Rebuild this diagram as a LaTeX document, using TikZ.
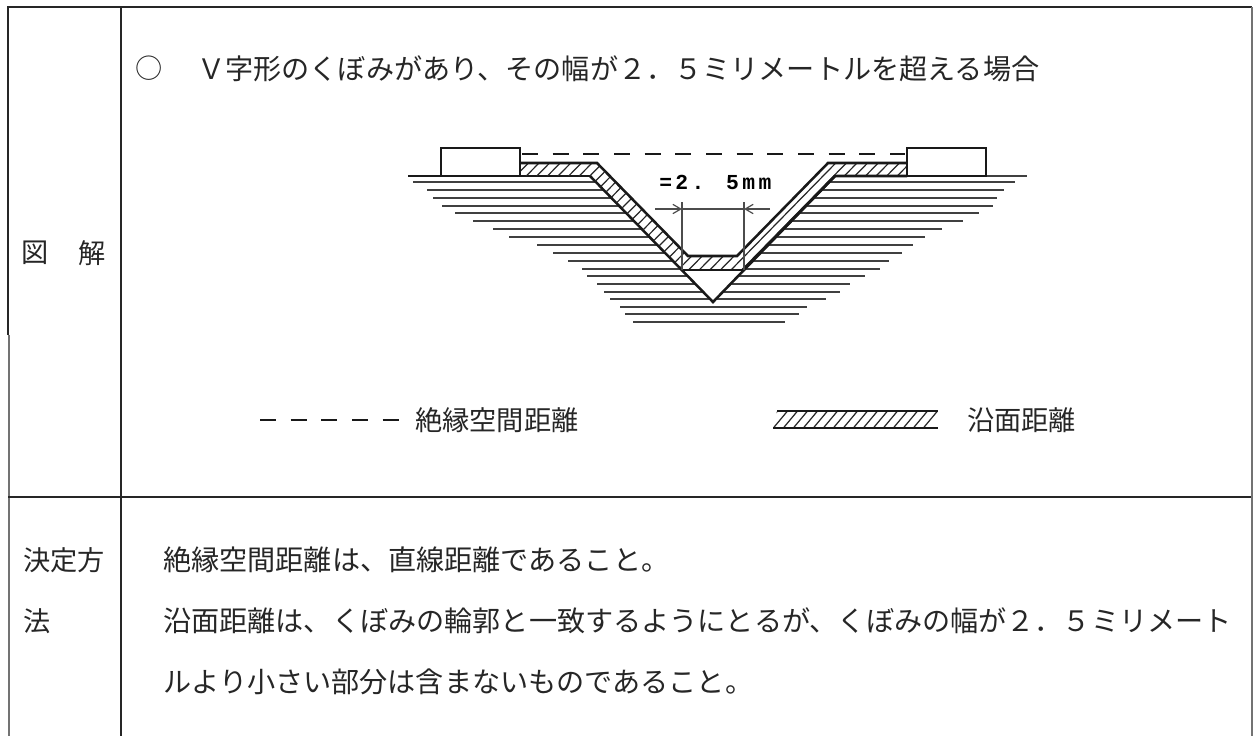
\documentclass[tikz,border=0pt]{standalone}
\usepackage{fontspec}
\setmainfont{Noto Sans CJK JP}
\newfontfamily\dimfont[LetterSpace=16]{Liberation Mono}
\usetikzlibrary{arrows.meta}
\tikzset{
  x=0.75pt,y=-0.75pt,
  frame/.style={line width=1.9pt,draw=black!85},
  thinframe/.style={line width=1pt,draw=black!55},
  body/.style={inner sep=0pt,anchor=west,font=\fontsize{20.4pt}{24pt}\selectfont,text=black!85},
  bodywide/.style={body,font=\fontsize{21.1pt}{24pt}\selectfont},
  partline/.style={line width=1.9pt,draw=black!90},
  ground/.style={line width=1.05pt,draw=black!75},
  hatchline/.style={line width=0.9pt,draw=black!85},
  dimline/.style={line width=0.9pt,draw=black!70},
  dimarrow/.style={dimline,-{Straight Barb[length=6pt,width=7pt]}},
  gapline/.style={line width=2.1pt,draw=black!90,dash pattern=on 12pt off 11pt},
}
\begin{document}
\begin{tikzpicture}
\useasboundingbox (0,0) rectangle (1256,736);
% frame
\draw[frame] (7,7) -- (1252,7);
\draw[frame] (8,7) -- (8,335);
\draw[thinframe] (9,335) -- (9,736);
\draw[frame] (121,7) -- (121,736);
\draw[frame] (8,497) -- (1252,497);
\draw[thinframe] (1252,7) -- (1252,736);
% labels
\node[body] (zu) at (21,253) {図};
\node[body] (kai) at (78,253) {解};
\node[body] (kettei) at (23,560) {決定方};
\node[body] (hou) at (23,621) {法};
\node[body] (circ) at (135,68) {○};
\node[bodywide] (head) at (197,69) {Ｖ字形のくぼみがあり、その幅が２．５ミリメートルを超える場合};
\node[bodywide] (l1) at (163,560) {絶縁空間距離は、直線距離であること。};
\node[bodywide] (l2) at (163,621) {沿面距離は、くぼみの輪郭と一致するようにとるが、くぼみの幅が２．５ミリメート};
\node[bodywide] (l3) at (163,682) {ルより小さい部分は含まないものであること。};
% ground lines
\foreach \y/\l/\r in {182/413/1015,190/427/1004,198/433/997,206/442/993,213/455/979,221/473/963,229/493/942,237/509/925,245/537/913,253/553/902,261/568/889,269/582/880,276/587/865,284/597/850,292/604/840,299/610/826}{
  \pgfmathsetmacro{\ia}{590+(\y-176)*0.976}
  \pgfmathsetmacro{\ib}{835-(\y-176)*0.968}
  \draw[ground] (\l,\y) -- (\ia,\y);
  \draw[ground] (\ib,\y) -- (\r,\y);
}
\foreach \y/\l/\r in {307/620/807,314/625/799,322/633/785}{
  \draw[ground] (\l,\y) -- (\r,\y);
}
\draw[partline] (408,176) -- (590,176);
\draw[ground] (835,176) -- (1027,176);
% V notch
\draw[partline] (590,176) -- (713,302) -- (835,176);
% hatched band
\begin{scope}
\clip (520,163) -- (597,163) -- (688,256) -- (737,256) -- (828,163) -- (907,163) -- (907,176) -- (835,176) -- (743,270) -- (683,270) -- (590,176) -- (520,176) -- cycle;
\foreach \k in {0,...,40}{
  \draw[hatchline] ({355+\k*10.6},340) -- ++(192,-196);
}
\end{scope}
\draw[partline] (520,163) -- (597,163) -- (688,256) -- (737,256) -- (828,163) -- (907,163);
\draw[partline] (743,270) -- (683,270);
\draw[partline] (743,270) -- (835,176) -- (907,176);
% contacts
\draw[partline] (441,148) rectangle (520,176);
\draw[partline] (907,148) rectangle (986,176);
% clearance
\coordinate (ca) at (522,154);
\coordinate (cb) at (905,154);
\draw[gapline] (ca) -- (cb);
% dimension
\coordinate (da) at (682,202);
\coordinate (db) at (682,270);
\coordinate (dc) at (744,202);
\coordinate (dd) at (744,270);
\draw[dimline] (da) -- (db);
\draw[dimline] (dc) -- (dd);
\coordinate (ea) at (655,209);
\coordinate (eb) at (682,209);
\coordinate (ec) at (744,209);
\coordinate (ed) at (770,209);
\draw[dimarrow] (ea) -- (eb);
\draw[dimarrow] (ed) -- (ec);
\draw[dimline] (eb) -- (ec);
\node[inner sep=0pt,anchor=west,font=\dimfont\bfseries\fontsize{16pt}{18pt}\selectfont] (dimtext) at (659,182) {=2. 5mm};
% legend
\coordinate (la) at (260,420);
\coordinate (lb) at (400,420);
\draw[gapline] (la) -- (lb);
\node[body] (leg1) at (415,420) {絶縁空間距離};
\begin{scope}
\clip (777,411) -- (938,411) -- (933,428) -- (773,428) -- cycle;
\foreach \k in {0,...,18}{
  \draw[hatchline] ({760+\k*10},432) -- ++(20,-24);
}
\end{scope}
\draw[partline] (777,411) -- (938,411);
\draw[partline] (773,428) -- (938,428);
\node[body] (leg2) at (967,420) {沿面距離};
\end{tikzpicture}
\end{document}
